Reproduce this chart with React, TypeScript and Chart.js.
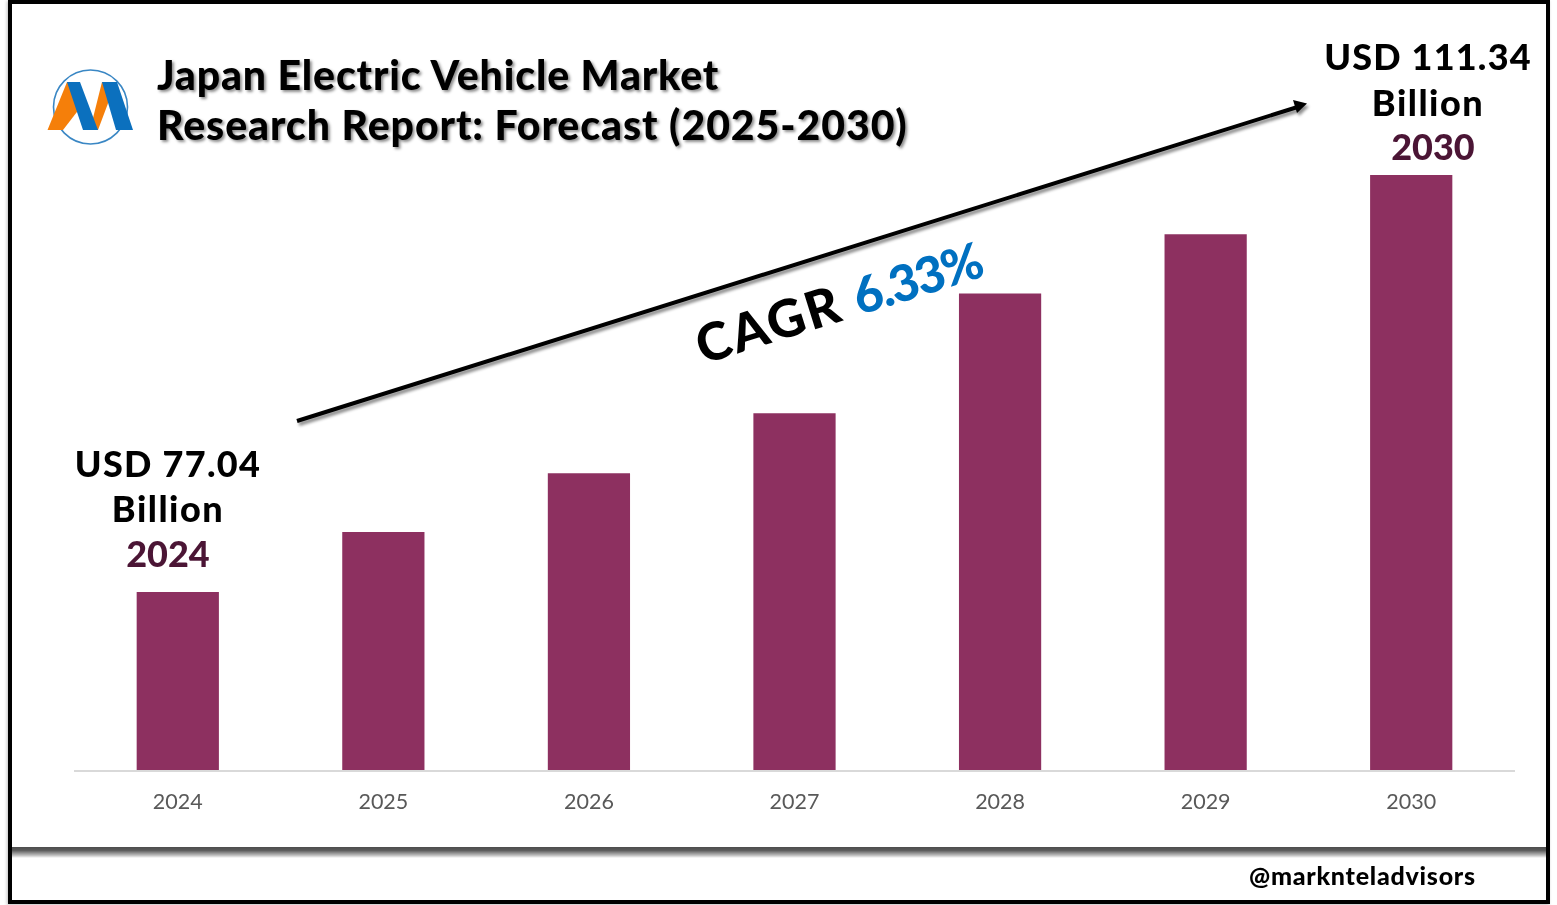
import React, { useEffect, useRef } from "react";
import { Chart, registerables } from "chart.js";

Chart.register(...registerables);

const years = ["2024", "2025", "2026", "2027", "2028", "2029", "2030"];
const marketSize = [77.04, 81.97, 86.8, 91.75, 101.6, 106.47, 111.34];
const axisMin = 62.32;
const axisMax = 111.34;
const titleLines = ["Japan Electric Vehicle Market", "Research Report: Forecast (2025-2030)"];
const handle = "@marknteladvisors";

const font = "Lato, sans-serif";

function Txt(props: { x: number; base: number; size: number; weight?: number; color?: string; center?: boolean; shadow?: string; spacing?: number; children: React.ReactNode }) {
  const { x, base, size, weight = 900, color = "#000", center, shadow, spacing, children } = props;
  return (
    <div
      style={{
        position: "absolute",
        left: x,
        top: base - size,
        height: size * 1.2,
        lineHeight: `${size * 1.2}px`,
        fontFamily: font,
        fontSize: size,
        fontWeight: weight,
        color,
        whiteSpace: "nowrap",
        transform: center ? "translateX(-50%)" : undefined,
        textShadow: shadow,
        letterSpacing: spacing,
      }}
    >
      {children}
    </div>
  );
}

export default function App() {
  const ref = useRef<HTMLCanvasElement | null>(null);
  useEffect(() => {
    const chart = new Chart(ref.current!, {
      type: "bar",
      data: {
        labels: years,
        datasets: [
          {
            data: marketSize,
            backgroundColor: "#8D3060",
            barPercentage: 1,
            categoryPercentage: 0.4,
            borderWidth: 0,
          },
        ],
      },
      options: {
        responsive: false,
        animation: false,
        devicePixelRatio: 1,
        layout: { padding: { left: 75, right: 43, top: 175, bottom: 0 } },
        plugins: { legend: { display: false }, tooltip: { enabled: false }, title: { display: false } },
        scales: {
          y: { display: false, min: axisMin, max: axisMax },
          x: {
            grid: { display: false, drawTicks: false },
            border: { color: "#D9D9D9", width: 2, z: 1 },
            ticks: { color: "#595959", font: { family: font, size: 21.5 }, padding: 18, maxRotation: 0 },
            afterFit: (s: any) => {
              s.height = 134;
            },
          },
        },
      },
    });
    return () => chart.destroy();
  }, []);

  const titleShadow = "2px 2px 3px rgba(0,0,0,0.45)";
  return (
    <div style={{ position: "fixed", left: 0, top: 0, width: 1557, height: 905, background: "#fff", overflow: "hidden" }}>
      <canvas ref={ref} width={1557} height={905} style={{ position: "absolute", left: 0, top: 0, width: 1557, height: 905 }} />

      {/* frame */}
      <div style={{ position: "absolute", left: 8, top: 0, width: 1542, height: 904, boxSizing: "border-box", borderStyle: "solid", borderColor: "#000", borderWidth: "4px", boxShadow: "-1px 1px 3px rgba(0,0,0,0.25)" }} />
      <div style={{ position: "absolute", left: 12, top: 847, width: 1534, height: 11, background: "linear-gradient(#4d4d4d 0%, #5a5a5a 30%, #bdbdbd 75%, #ffffff 100%)" }} />

      {/* logo and arrow */}
      <svg width={1557} height={905} style={{ position: "absolute", left: 0, top: 0 }}>
        <defs>
          <filter id="sh" x="-5%" y="-20%" width="110%" height="140%">
            <feDropShadow dx="2" dy="3" stdDeviation="1.5" floodColor="#000" floodOpacity="0.45" />
          </filter>
        </defs>
        <circle cx={90.5} cy={107} r={37} fill="none" stroke="#3A87C4" strokeWidth={1.6} />
        <polygon points="47.5,130 67,82 80,82 80,108 63,130" fill="#F57F0A" />
        <polygon points="90,130 102,82 116,82 98,130" fill="#F57F0A" />
        <polygon points="67,82 80,82 98,130 83,130" fill="#0B70BE" />
        <polygon points="102,82 117,82 133,130 116,130" fill="#0B70BE" />
        <g filter="url(#sh)">
          <line x1={297} y1={421} x2={1296} y2={107.5} stroke="#000" strokeWidth={4} />
          <polygon points="1307,103.5 1293,100 1297,113" fill="#000" />
        </g>
      </svg>

      <Txt x={157} base={91} size={41} shadow={titleShadow} spacing={0.85}>{titleLines[0]}</Txt>
      <Txt x={157} base={141} size={41} shadow={titleShadow} spacing={0.93}>{titleLines[1]}</Txt>

      <Txt x={168} base={478} size={36} center spacing={1.3}>USD 77.04</Txt>
      <Txt x={168} base={523} size={36} center spacing={1.5}>Billion</Txt>
      <Txt x={168} base={568} size={36} center color="#4B1535">2024</Txt>

      <Txt x={1428} base={71} size={36} center spacing={1.2}>USD 111.34</Txt>
      <Txt x={1428} base={117} size={36} center spacing={1.5}>Billion</Txt>
      <Txt x={1433} base={161} size={36} center color="#4B1535">2030</Txt>

      <div style={{ position: "absolute", left: 706, top: 314, fontFamily: font, fontSize: 52, fontWeight: 900, lineHeight: "60px", whiteSpace: "nowrap", transform: "rotate(-17.4deg)", transformOrigin: "0 100%" }}>
        <span style={{ color: "#000", letterSpacing: 2.2 }}>CAGR </span>
        <span style={{ color: "#0070C0", letterSpacing: -1.7, fontSize: 50 }}>6.33%</span>
      </div>

      <Txt x={1249} base={885} size={25} spacing={0.75}>{handle}</Txt>
    </div>
  );
}
